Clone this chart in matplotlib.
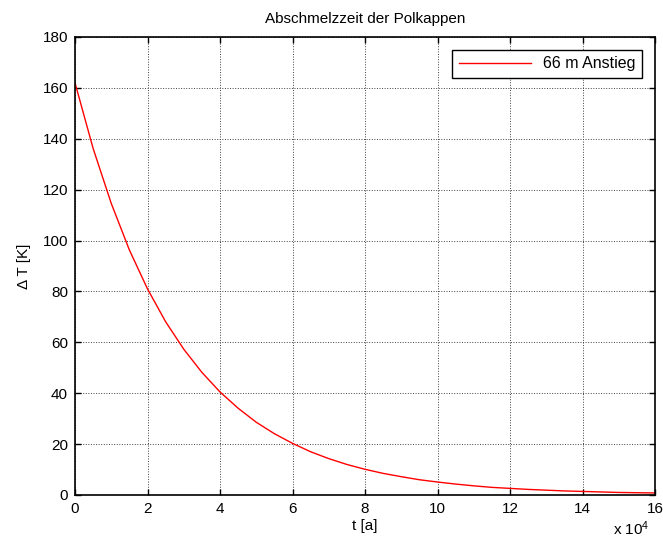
import numpy as np
import matplotlib
matplotlib.use("Agg")
import matplotlib.pyplot as plt

plt.rcParams.update({
    "font.family": "sans-serif",
    "font.sans-serif": ["Liberation Sans", "DejaVu Sans"],
    "font.size": 11,
    "mathtext.default": "regular",
})

# data (t in units of 1e4 years)
t = [0, 0.5, 1, 1.5, 2, 2.5, 3, 3.5, 4, 4.5, 5, 5.5, 6, 6.5, 7, 7.5, 8,
     8.5, 9, 9.5, 10, 10.5, 11, 11.5, 12, 12.5, 13, 13.5, 14, 14.5, 15, 15.5, 16]
dT = [162, 136.2, 114.6, 96.3, 81.0, 68.1, 57.3, 48.2, 40.5, 34.1, 28.6, 24.1,
      20.3, 17.0, 14.3, 12.0, 10.1, 8.5, 7.2, 6.0, 5.1, 4.3, 3.6, 3.0, 2.6,
      2.2, 1.9, 1.6, 1.4, 1.2, 1.0, 0.9, 0.8]
xticks = [0, 2, 4, 6, 8, 10, 12, 14, 16]
yticks = [0, 20, 40, 60, 80, 100, 120, 140, 160, 180]

fig = plt.figure(figsize=(6.63, 5.49), dpi=100)
ax = fig.add_axes([75/663, 1-495/549, 580/663, 458/549])

ax.plot(t, dT, color="red", lw=1.0, label="66 m Anstieg")
ax.set_xlim(0, 16)
ax.set_ylim(0, 180)
ax.set_xticks(xticks)
ax.set_yticks(yticks)
ax.grid(True, color="#404040", ls=":", lw=0.7)
ax.tick_params(direction="in", top=True, right=True, length=4, width=1, pad=5)
for s in ax.spines.values():
    s.set_linewidth(1.2)

ax.set_title("Abschmelzzeit der Polkappen", fontsize=11, pad=10)
ax.set_xlabel("t [a]", labelpad=2)
ax.set_ylabel("Δ T [K]", labelpad=8)
fig.text(613/663, 1-529/549, "x 10$^{4}$", fontsize=11, va="center")

leg = ax.legend(loc="upper right", fancybox=False, framealpha=1, edgecolor="black",
                handlelength=4.5, borderaxespad=0.8, fontsize=11.5)
leg.get_frame().set_linewidth(1.0)

fig.savefig("out.png", dpi=100)
